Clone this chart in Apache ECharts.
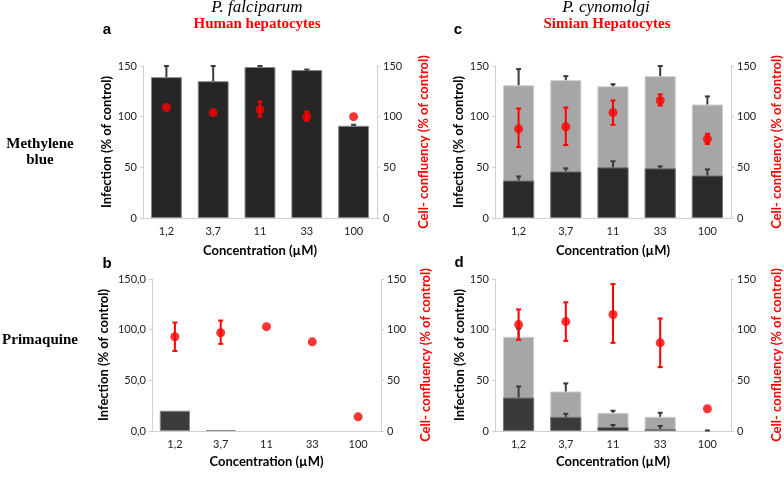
<!DOCTYPE html>
<html><head><meta charset="utf-8">
<script src="https://cdn.jsdelivr.net/npm/echarts@6/dist/echarts.min.js"></script>
<style>html,body{margin:0;padding:0;background:#fff}#c{width:784px;height:477px}</style>
</head><body><div id="c"></div>
<script>
const categories = ['1,2', '3,7', '11', '33', '100'];

// Panel a: P. falciparum, methylene blue
const aInfection = [139, 135, 149, 146, 91];
const aInfectionErr = [150, 150, 150, 146.5, 92];
const aConfluency = [109, 104, 107, 100, 100];
const aConfLow = [109, 104, 100, 96, 100];
const aConfHigh = [109, 104, 115, 105, 100];

// Panel b: P. falciparum, primaquine
const bInfection = [20, 1, 0, 0, 0];
const bConfluency = [93, 97, 103, 88, 14];
const bConfLow = [79, 86, 103, 88, 14];
const bConfHigh = [107, 109, 103, 88, 14];

// Panel c: P. cynomolgi, methylene blue
const cTotal = [131, 136, 130, 140, 112];
const cTotalErr = [147, 140, 132, 150, 120];
const cDark = [37, 46, 50, 49, 42];
const cDarkErr = [41, 49, 56, 51, 48];
const cConfluency = [88, 90, 104, 116, 78];
const cConfLow = [70, 72, 92, 111, 73];
const cConfHigh = [108, 109, 116, 122, 83];

// Panel d: P. cynomolgi, primaquine
const dTotal = [93, 39, 18, 14, 0];
const dTotalErr = [101, 47, 20, 18, 0];
const dDark = [33, 14, 4, 2, 0];
const dDarkErr = [44, 17, 6, 5, 0.5];
const dConfluency = [105, 108, 115, 87, 22];
const dConfLow = [90, 89, 87, 63, 22];
const dConfHigh = [120, 127, 145, 111, 22];

const FONT = 'Lato';
const RED = '#ff0000';

function errRender(capHalf, color, lw, twoSided) {
  return function (params, api) {
    const x = api.value(0), lo = api.value(1), hi = api.value(2);
    if (hi - lo < 0.2) return null;
    const p1 = api.coord([x, lo]);
    const p2 = api.coord([x, hi]);
    const children = [
      {type: 'line', shape: {x1: p1[0], y1: p1[1], x2: p2[0], y2: p2[1]}, style: {stroke: color, lineWidth: lw}},
      {type: 'line', shape: {x1: p2[0] - capHalf, y1: p2[1], x2: p2[0] + capHalf, y2: p2[1]}, style: {stroke: color, lineWidth: lw}}
    ];
    if (twoSided) children.push({type: 'line', shape: {x1: p1[0] - capHalf, y1: p1[1], x2: p1[0] + capHalf, y2: p1[1]}, style: {stroke: color, lineWidth: lw}});
    return {type: 'group', children: children};
  };
}
function triples(lo, hi) { return lo.map((v, i) => [i, v, hi[i]]); }

const grids = [
  {left: 143, top: 66, width: 234, height: 152},
  {left: 152, top: 279, width: 229, height: 152},
  {left: 495, top: 66, width: 237, height: 152},
  {left: 495, top: 279, width: 237, height: 152}
];
const xNameGap = [26, 24, 26, 24];
const yNameGap = [30, 42, 30, 29];
const rNameGap = [40, 38, 39, 39];

const xAxis = [], yAxis = [], series = [];
grids.forEach((g, i) => {
  xAxis.push({
    type: 'category', gridIndex: i, data: categories,
    name: 'Concentration (µM)', nameLocation: 'middle', nameGap: xNameGap[i],
    nameTextStyle: {fontFamily: FONT, fontWeight: 'bold', fontSize: 13, color: '#000'},
    axisLine: {lineStyle: {color: '#d0d0d0'}}, axisTick: {show: false},
    axisLabel: {fontFamily: FONT, fontSize: 11, color: '#222', margin: 8}
  });
  yAxis.push({
    type: 'value', gridIndex: i, min: 0, max: 150, interval: 50,
    name: 'Infection (% of control)', nameLocation: 'middle', nameGap: yNameGap[i],
    nameTextStyle: {fontFamily: FONT, fontWeight: 'bold', fontSize: 13, color: '#000'},
    axisLine: {show: true, lineStyle: {color: '#d0d0d0'}},
    axisTick: {show: true, length: 3, lineStyle: {color: '#d0d0d0'}},
    splitLine: {show: false},
    axisLabel: {fontFamily: FONT, fontSize: 11, color: '#222', margin: 6,
      formatter: i === 1 ? (v => v.toFixed(1).replace('.', ',')) : null}
  });
  yAxis.push({
    type: 'value', gridIndex: i, min: 0, max: 150, interval: 50, position: 'right',
    name: 'Cell- confluency (% of control)', nameLocation: 'middle', nameGap: rNameGap[i],
    nameRotate: 90,
    nameTextStyle: {fontFamily: FONT, fontWeight: 'bold', fontSize: 13, color: RED},
    axisLine: {show: true, lineStyle: {color: '#d0d0d0'}},
    axisTick: {show: true, length: 3, lineStyle: {color: '#d0d0d0'}},
    splitLine: {show: false},
    axisLabel: {fontFamily: FONT, fontSize: 11, color: '#222', margin: 6}
  });
});

function bar(i, data, color, border, name) {
  const items = data.map(v => v === 0 ? {value: v, itemStyle: {borderWidth: 0, opacity: 0}} : v);
  return {type: 'bar', name: name, xAxisIndex: i, yAxisIndex: 2 * i, data: items, barWidth: '66%', barGap: '-100%',
    itemStyle: {color: color, borderColor: border, borderWidth: 1}, z: 2, silent: true};
}
function blackErr(i, lo, hi) {
  return {type: 'custom', xAxisIndex: i, yAxisIndex: 2 * i, data: triples(lo, hi),
    renderItem: errRender(2.5, '#3a3a3a', 2, false), z: 3, silent: true};
}
function redErr(i, lo, hi) {
  return {type: 'custom', xAxisIndex: i, yAxisIndex: 2 * i + 1, data: triples(lo, hi),
    renderItem: errRender(2.5, RED, 2, true), z: 4, silent: true};
}
function redPts(i, data) {
  return {type: 'scatter', xAxisIndex: i, yAxisIndex: 2 * i + 1, data: data, symbolSize: 9,
    itemStyle: {color: RED}, z: 5, silent: true};
}

// a
series.push(bar(0, aInfection, '#262626', '#888', 'a'));
series.push(blackErr(0, aInfection, aInfectionErr));
series.push(redErr(0, aConfLow, aConfHigh));
series.push(redPts(0, aConfluency));
// b
series.push(bar(1, bInfection, '#3c3c3c', '#888', 'b'));
series.push(redErr(1, bConfLow, bConfHigh));
series.push(redPts(1, bConfluency));
// c
series.push(bar(2, cTotal, '#a6a6a6', '#cfcfcf', 'c1'));
series.push(bar(2, cDark, '#2a2a2a', '#777', 'c2'));
series.push(blackErr(2, cTotal, cTotalErr));
series.push(blackErr(2, cDark, cDarkErr));
series.push(redErr(2, cConfLow, cConfHigh));
series.push(redPts(2, cConfluency));
// d
series.push(bar(3, dTotal, '#a6a6a6', '#cfcfcf', 'd1'));
series.push(bar(3, dDark, '#3a3a3a', '#777', 'd2'));
series.push(blackErr(3, dTotal, dTotalErr));
series.push(blackErr(3, dDark, dDarkErr));
series.push(redErr(3, dConfLow, dConfHigh));
series.push(redPts(3, dConfluency));

const serif = '"Liberation Serif", "DejaVu Serif", serif';
const sans = 'Arial, "Liberation Sans", sans-serif';
function label(x, y, t, font, fill) {
  return {type: 'text', x: x, y: y, style: {text: t, font: font, fill: fill, align: 'center', verticalAlign: 'middle'}};
}
const graphic = [
  label(257, 8, 'P. falciparum', 'italic 17px ' + serif, '#000'),
  label(257, 24, 'Human hepatocytes', 'bold 15px ' + serif, RED),
  label(606, 8, 'P. cynomolgi', 'italic 17px ' + serif, '#000'),
  label(607, 24, 'Simian Hepatocytes', 'bold 15px ' + serif, RED),
  label(107, 30, 'a', 'bold 15px ' + sans, '#000'),
  label(458, 30, 'c', 'bold 15px ' + sans, '#000'),
  label(107, 264, 'b', 'bold 15px ' + sans, '#000'),
  label(459, 263, 'd', 'bold 15px ' + sans, '#000'),
  label(40, 144, 'Methylene', 'bold 15px ' + serif, '#000'),
  label(40, 160, 'blue', 'bold 15px ' + serif, '#000'),
  label(40, 340, 'Primaquine', 'bold 15px ' + serif, '#000')
];

const chart = echarts.init(document.getElementById('c'), null, {renderer: 'canvas'});
chart.setOption({
  animation: false,
  backgroundColor: '#fff',
  grid: grids,
  xAxis: xAxis,
  yAxis: yAxis,
  series: series,
  graphic: graphic
});
</script>
</body></html>
